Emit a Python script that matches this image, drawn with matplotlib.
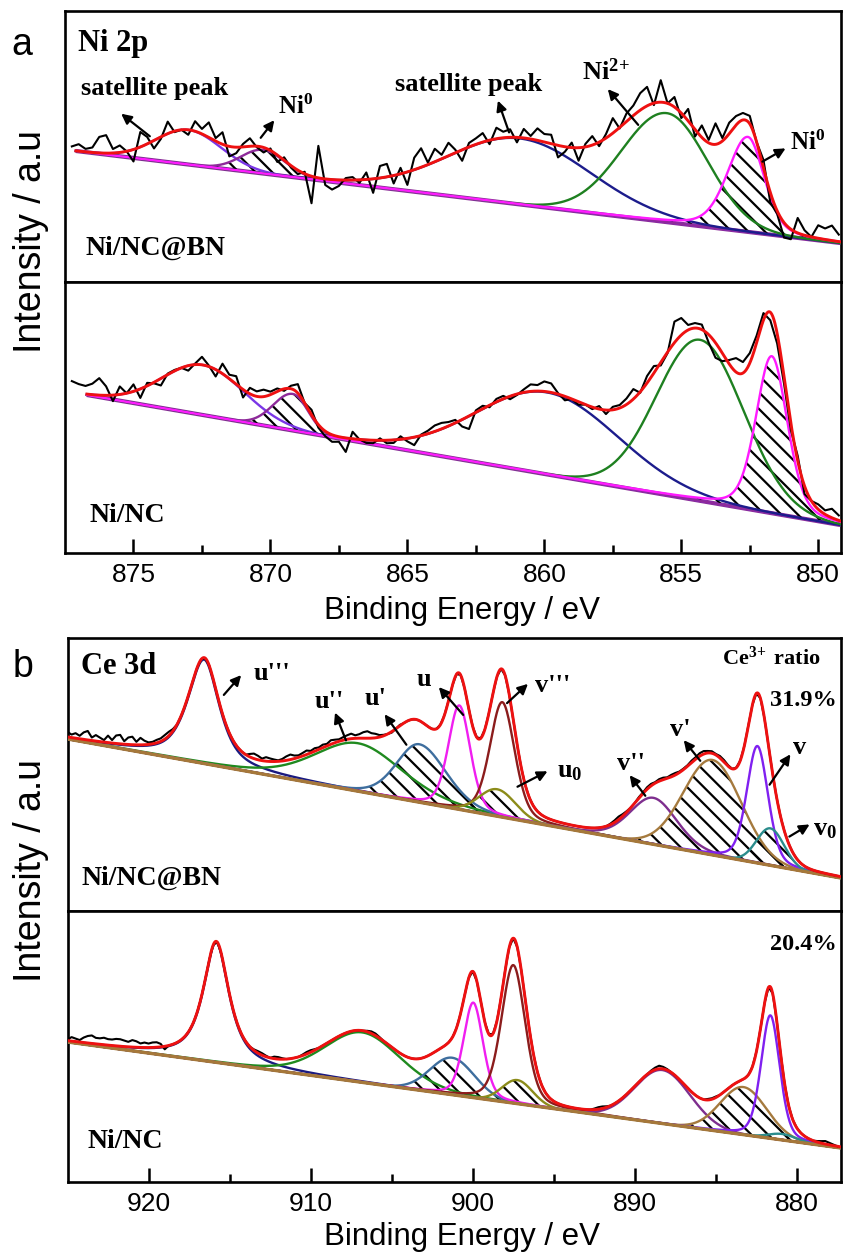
import numpy as np
import matplotlib
matplotlib.use("Agg")
import matplotlib.pyplot as plt

W, H, DPI = 843, 1254, 100
plt.rcParams['mathtext.fontset'] = 'custom'
plt.rcParams['mathtext.rm'] = 'Liberation Serif:bold'
plt.rcParams['mathtext.bf'] = 'Liberation Serif:bold'
plt.rcParams['mathtext.it'] = 'Liberation Serif:bold'
plt.rcParams['hatch.linewidth'] = 1.6
plt.rcParams['hatch.color'] = 'black'

SANS = 'Liberation Sans'
SERIF = 'Liberation Serif'

# ---------------- data: panel a (Ni 2p) ----------------
NI_NAMES = ["satellite (high)", "Ni0 (2p1/2)", "satellite (low)", "Ni2+", "Ni0 (2p3/2)"]
NI_COLORS = ['#7A36E6', '#8E2A9A', '#1C1C8C', '#1E8020', '#FF1AFF']
NI_HATCH = [False, True, False, False, True]

# Ni/NC@BN
NIBN_CENTER = [873.0, 870.27, 860.9, 855.53, 852.57]
NIBN_AMP = [34.6, 23.6, 66.0, 109.0, 95.0]
NIBN_FWHM_HI = [2.8, 1.9, 6.1, 3.9, 1.75]
NIBN_FWHM_LO = [2.8, 1.9, 6.1, 3.5, 1.4]
NIBN_ETA = [0.0, 0.0, 0.0, 0.0, 0.3]
NIBN_BG = [877.1, 131.0, 849.2, 39.0]

# Ni/NC
NINC_CENTER = [872.46, 869.18, 859.9, 854.32, 851.7]
NINC_AMP = [50.0, 36.6, 82.0, 161.0, 157.0]
NINC_FWHM_HI = [3.5, 1.7, 6.1, 3.75, 1.35]
NINC_FWHM_LO = [3.5, 1.3, 6.1, 3.75, 1.35]
NINC_ETA = [0.0, 0.0, 0.0, 0.0, 0.3]
NINC_BG = [876.7, 158.0, 849.2, 28.0]

RAW_A_E = np.linspace(877.25, 849.25, 113)
RES_NIBN = [4, 7, 3, 5, 16, 18, 4, 7, 0, -12,
            15, 7, -8, -2, 12, -1, 0, -5, 10, 5,
            15, 3, 12, -10, -6, 3, 8, -1, -5, 2,
            -7, 3, -2, -4, 2, -27, 32, -6, -10, -6,
            2, 3, -3, 7, -14, 12, 13, -8, 6, -13,
            12, 19, 2, 13, 4, 13, 3, -11, 4, 6,
            9, -4, 11, 6, 8, -5, 9, 3, 12, 8,
            9, -12, -5, 5, -13, 3, 9, -4, 4, 15,
            -1, 8, 10, 17, 19, -2, 22, 0, 10, -5,
            12, -7, 12, 3, 21, 3, 11, 9, 7, 8,
            0, 8, -10, -3, -15, -10, 15, 5, 0, 13,
            11, 15, 7]
RES_NINC = [11, 9, 8, 11, 17, 9, -6, 8, 0, 7,
            -9, 3, -1, -7, 1, 1, 0, -5, 1, 8,
            1, -7, 10, 4, 8, -8, 6, 5, 7, 3,
            3, -2, 3, 9, 0, 5, -3, -5, -7, -5,
            -14, 7, 0, -3, -3, 2, -3, -3, 3, -3,
            -8, 1, 3, 6, 6, 4, 3, -7, -13, 2,
            3, -2, 3, 3, -3, -1, 3, 7, 6, 10,
            9, 1, -4, 0, -3, 0, -2, 3, -4, 3,
            3, 6, 10, -1, 7, 7, -3, -1, 21, 17,
            5, 5, 5, -8, -15, -8, 4, 14, 11, 10,
            7, 7, -8, -10, -7, -7, 5, -8, 0, 5,
            4, 9, 5]

# ---------------- data: panel b (Ce 3d) ----------------
CE_NAMES = ["u'''", "u''", "u'", "u", "v'''", "u0", "v''", "v'", "v", "v0"]
CE_COLORS = ['#1A1A80', '#1F8A1F', '#3E6E9E', '#F01EF0', '#8B1C1C',
             '#8C8C1A', '#7E2E8E', '#A57A3E', '#8020F0', '#2A8C8C']
CE_HATCH = [False, False, True, False, False, True, False, True, False, True]

CEBN_CENTER = [916.57, 907.07, 903.3, 900.83, 898.18, 898.49, 888.86, 885.22, 882.44, 881.64]
CEBN_AMP = [104.0, 48.0, 58.0, 104.0, 115.0, 27.0, 46.5, 95.0, 117.0, 37.0]
CEBN_FWHM_HI = [2.4, 6.4, 3.3, 1.6, 1.8, 2.6, 3.4, 4.2, 1.55, 2.0]
CEBN_FWHM_LO = [2.2, 6.4, 3.9, 1.6, 1.8, 2.6, 3.4, 4.2, 1.55, 2.0]
CEBN_ETA = [0.7, 0.3, 0.2, 0.3, 0.3, 0.0, 0.2, 0.0, 0.3, 0.0]
CEBN_BG = [925.0, 172.0, 877.3, 33.0]

CENC_CENTER = [915.83, 906.82, 901.27, 899.97, 897.5, 897.25, 888.3, 883.3, 881.64, 880.9]
CENC_AMP = [120.0, 50.0, 37.0, 95.0, 138.0, 23.6, 53.5, 47.6, 123.0, 6.0]
CENC_FWHM_HI = [1.9, 5.5, 3.2, 1.42, 1.73, 2.2, 4.0, 3.35, 1.36, 2.0]
CENC_FWHM_LO = [1.9, 5.5, 3.2, 1.42, 1.73, 2.2, 4.0, 3.35, 1.36, 2.0]
CENC_ETA = [0.85, 0.2, 0.0, 0.3, 0.3, 0.0, 0.0, 0.0, 0.3, 0.0]
CENC_BG = [925.0, 140.0, 877.3, 34.0]

RAW_B_E = np.linspace(925.0, 877.5, 191)
RES_CEBN = ([5, 3, 5, 3, 7, 9, 3, 6, 4, 2, 7, 3, 8, 9, 3, 7, 8, 3, 7, 4,
             2, 2, 3, 3, 4, 4, 2, 0, 0, 0, 0]
            + [0] * 14
            + [3, 5, 4, 2, 4, 3, 2, 1, 2, 4, 5, 3, 2, 3, 4, 2, 3, 2, 3, 2,
               4, 3, 2, 3, 4, 5, 3, 4, 6, 7, 5, 4, 2, 1, 0, -1, 0, 1]
            + [0] * 51
            + [1, 2, 3, 2, 1, 0, 0, 1, 1, 2, 2, 1, 2, 2, 1, 2, 2, 1, 1, 1,
               2, 2, 3, 3, 2, 2, 1, 2, 2, 1, 0, 0]
            + [0] * 25)
RES_CENC = ([1, 4, 3, 2, 5, 7, 8, 6, 6, 7, 6, 6, 7, 7, 6, 5, 7, 6, 4, 5,
             4, 5, 5, 3, -3, 0]
            + [0] * 20 + [1, 2, 2, 1] + [0] + [2, 2, 1] + [0] * 4 + [1, 2, 2, 1]
            + [0] * 12 + [1, 2, 2, 1] + [0] * 52 + [1, 2, 2, 1, 0] + [0] * 9
            + [1, 2, 3, 2, 1] + [0] * 9 + [1, 1, 1] + [0] * 24 + [1, 2, 3, 2, 1] + [0])


# ---------------- helpers ----------------
def peak(E, c, a, fh, fl, eta):
    f = np.where(E >= c, fh, fl)
    d = (E - c) / f
    g = np.exp(-4 * np.log(2) * d ** 2)
    l = 1.0 / (1 + 4 * d ** 2)
    return a * ((1 - eta) * g + eta * l)


def background(E, bg):
    e0, i0, e1, i1 = bg
    return i0 + (E - e0) * (i1 - i0) / (e1 - e0)


def draw_fit(ax, centers, amps, fhi, flo, etas, bg, colors, hatches,
             raw_e, res, bg_color, bg_lw, bg_first):
    E = np.linspace(bg[0], bg[2], 1500)
    B = background(E, bg)
    comps = [peak(E, c, a, fh, fl, et) for c, a, fh, fl, et in
             zip(centers, amps, fhi, flo, etas)]
    env = B + np.sum(comps, axis=0)
    if bg_first:
        ax.plot(E, B, color=bg_color, lw=bg_lw, zorder=2, solid_capstyle='butt')
    for comp, col, hat in zip(comps, colors, hatches):
        if hat:
            ax.fill_between(E, B, B + comp, where=comp > 0.8, facecolor='none',
                            edgecolor='black', hatch='\\\\', linewidth=0, zorder=2.5)
        ax.plot(E, B + comp, color=col, lw=1.7, zorder=3)
    if not bg_first:
        ax.plot(E, B, color=bg_color, lw=bg_lw, zorder=3.2, solid_capstyle='butt')
    # raw data
    rb = background(raw_e, bg)
    renv = rb + np.sum([peak(raw_e, c, a, fh, fl, et) for c, a, fh, fl, et in
                        zip(centers, amps, fhi, flo, etas)], axis=0)
    ax.plot(raw_e, renv + np.asarray(res, float), color='black', lw=1.5, zorder=4)
    ax.plot(E, env, color='#EE1111', lw=2.1, zorder=5)


def fp(x, y):
    return (x / W, 1 - y / H)


fig = plt.figure(figsize=(W / DPI, H / DPI), dpi=DPI)

ax_a1 = fig.add_axes([65 / W, 1 - 282 / H, (840.7 - 65) / W, 271 / H])
ax_a2 = fig.add_axes([65 / W, 1 - 553 / H, (840.7 - 65) / W, 271 / H])
ax_b1 = fig.add_axes([67.5 / W, 1 - 911 / H, (840.7 - 67.5) / W, 273 / H])
ax_b2 = fig.add_axes([67.5 / W, 1 - 1182 / H, (840.7 - 67.5) / W, 271 / H])

draw_fit(ax_a1, NIBN_CENTER, NIBN_AMP, NIBN_FWHM_HI, NIBN_FWHM_LO, NIBN_ETA, NIBN_BG,
         NI_COLORS, NI_HATCH, RAW_A_E, RES_NIBN, '#8A2A96', 3.0, True)
draw_fit(ax_a2, NINC_CENTER, NINC_AMP, NINC_FWHM_HI, NINC_FWHM_LO, NINC_ETA, NINC_BG,
         NI_COLORS, NI_HATCH, RAW_A_E, RES_NINC, '#8A2A96', 3.0, True)
draw_fit(ax_b1, CEBN_CENTER, CEBN_AMP, CEBN_FWHM_HI, CEBN_FWHM_LO, CEBN_ETA, CEBN_BG,
         CE_COLORS, CE_HATCH, RAW_B_E, RES_CEBN, '#A6783A', 2.4, False)
draw_fit(ax_b2, CENC_CENTER, CENC_AMP, CENC_FWHM_HI, CENC_FWHM_LO, CENC_ETA, CENC_BG,
         CE_COLORS, CE_HATCH, RAW_B_E, RES_CENC, '#A6783A', 2.4, False)

for ax in (ax_a1, ax_a2):
    ax.set_xlim(877.5, 849.18)
    ax.set_ylim(0, 271)
for ax, yl in ((ax_b1, 273), (ax_b2, 271)):
    ax.set_xlim(925.0, 877.3)
    ax.set_ylim(0, yl)

ax_a2.set_xticks([875, 870, 865, 860, 855, 850])
ax_a2.set_xticks([872.5, 867.5, 862.5, 857.5, 852.5], minor=True)
ax_b2.set_xticks([920, 910, 900, 890, 880])
ax_b2.set_xticks([915, 905, 895, 885], minor=True)

for ax in (ax_a1, ax_a2, ax_b1, ax_b2):
    ax.set_yticks([])
    for s in ax.spines.values():
        s.set_linewidth(1.9)
for ax in (ax_a1, ax_b1):
    ax.tick_params(axis='x', which='both', bottom=False, labelbottom=False)
for ax in (ax_a2, ax_b2):
    ax.tick_params(axis='x', which='major', direction='in', length=10, width=1.8,
                   labelsize=19, pad=7)
    ax.tick_params(axis='x', which='minor', direction='in', length=6, width=1.8)
    for lab in ax.get_xticklabels():
        lab.set_fontfamily(SANS)

# axis labels
fig.text(*fp(462, 611), 'Binding Energy / eV', ha='center', va='center',
         fontsize=22.5, family=SANS)
fig.text(*fp(462, 1237), 'Binding Energy / eV', ha='center', va='center',
         fontsize=22.5, family=SANS)
fig.text(*fp(31, 242), 'Intensity / a.u', ha='center', va='center', rotation=90,
         fontsize=27, family=SANS)
fig.text(*fp(31, 871), 'Intensity / a.u', ha='center', va='center', rotation=90,
         fontsize=27, family=SANS)
fig.text(*fp(22, 45), 'a', ha='center', va='center', fontsize=27, family=SANS)
fig.text(*fp(23, 667), 'b', ha='center', va='center', fontsize=27, family=SANS)


def label(x, y, s, size=19):
    fig.text(*fp(x, y), s, ha='left', va='center', fontsize=size,
             family=SERIF, weight='bold')


def arrow(tail, head):
    fig.add_artist(matplotlib.patches.FancyArrowPatch(
        fp(*tail), fp(*head), transform=fig.transFigure, arrowstyle='-|>',
        mutation_scale=15, color='black', lw=1.6, zorder=10))


# panel a texts
label(78, 43, 'Ni 2p', 22)
label(81, 88, 'satellite peak', 19)
label(278, 107, 'Ni$^{0}$', 18)
label(395, 85, 'satellite peak', 19)
label(582, 72, r'Ni$^{2\!+}$', 19)
label(790, 143, 'Ni$^{0}$', 18)
label(86, 248, 'Ni/NC@BN', 20)
label(89, 515, 'Ni/NC', 20)
arrow((152, 138), (119, 112))
arrow((259, 140), (276, 118))
arrow((510, 135), (497, 98))
arrow((640, 127), (606, 87))
arrow((760, 163), (788, 147))

# panel b texts
label(81, 667, 'Ce 3d', 22)
label(254, 673, "u'''", 19)
label(315, 702, "u''", 19)
label(365, 698, "u'", 19)
label(417, 680, "u", 19)
label(535, 685, "v'''", 19)
label(557, 772, "u$_{0}$", 19)
label(617, 763, "v''", 19)
label(670, 730, "v'", 19)
label(793, 748, "v", 19)
label(813, 829, "v$_{0}$", 19)
label(722, 658, r'Ce$^{3\!+}$ ratio', 16)
label(770, 700, '31.9%', 17.5)
label(770, 945, '20.4%', 17.5)
label(81, 878, 'Ni/NC@BN', 20)
label(88, 1142, 'Ni/NC', 20)
arrow((222, 697), (243, 673))
arrow((347, 743), (334, 710))
arrow((408, 747), (383, 712))
arrow((465, 717), (437, 685))
arrow((505, 705), (530, 682))
arrow((515, 788), (550, 770))
arrow((647, 798), (628, 773))
arrow((702, 763), (682, 738))
arrow((768, 787), (792, 752))
arrow((787, 838), (812, 823))

fig.savefig('out.png', dpi=DPI)
